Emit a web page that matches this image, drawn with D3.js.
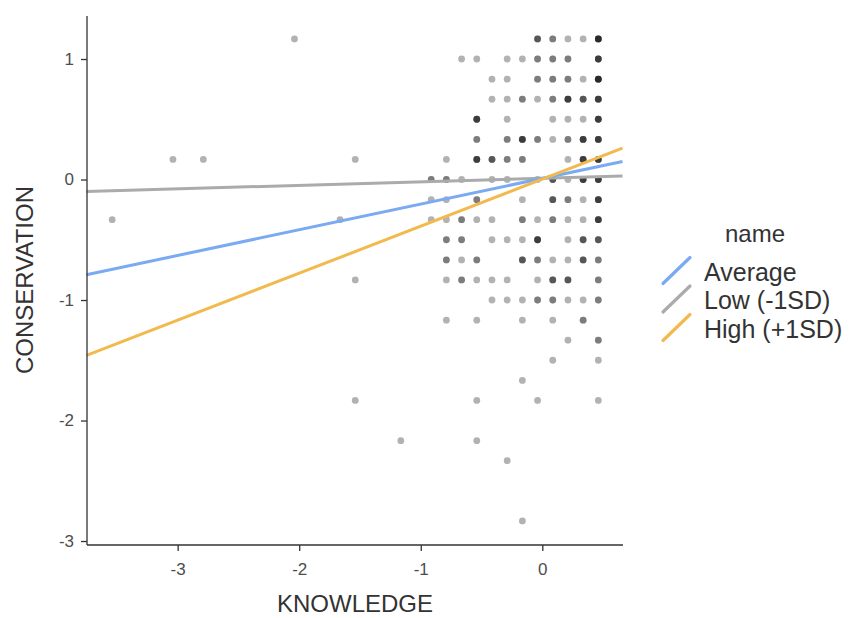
<!DOCTYPE html>
<html>
<head>
<meta charset="utf-8">
<script src="https://cdn.jsdelivr.net/npm/d3@7"></script>
<style>
  body { margin: 0; background: #fff; }
  text { font-family: "Liberation Sans", Arial, Helvetica, sans-serif; }
</style>
</head>
<body>
<svg></svg>
<script>
// points, one row of CONSERVATION at a time; count = overlapping responses
const knowledge = [
  -0.039, 0.086, 0.211, 0.336, 0.461, -2.039,
  -0.664, -0.539, -0.289, -0.164, -0.039, 0.086, 0.211, 0.461,
  -0.414, -0.289, -0.039, 0.086, 0.211, 0.336, 0.461,
  -0.414, -0.289, -0.164, -0.039, 0.086, 0.211, 0.336, 0.461,
  -0.539, -0.289, 0.086, 0.211, 0.336, 0.461,
  -0.539, -0.289, -0.164, -0.039, 0.086, 0.211, 0.336, 0.461,
  -3.039, -2.789, -1.539, -0.789, -0.539, -0.414, -0.289, -0.164, 0.211, 0.336, 0.461,
  -0.914, -0.789, -0.664, -0.414, -0.289, -0.039, 0.086, 0.211, 0.336, 0.461,
  -0.914, -0.789, -0.539, -0.164, 0.086, 0.211, 0.336, 0.461,
  -3.539, -1.664, -0.914, -0.789, -0.664, -0.539, -0.414, -0.164, -0.039, 0.086, 0.211, 0.336, 0.461,
  -0.789, -0.664, -0.414, -0.289, -0.164, -0.039, 0.211, 0.336, 0.461,
  -0.789, -0.664, -0.539, -0.164, -0.039, 0.086, 0.211, 0.336, 0.461,
  -1.539, -0.789, -0.664, -0.539, -0.414, -0.289, -0.039, 0.086, 0.211, 0.461,
  -0.414, -0.289, -0.164, -0.039, 0.086, 0.211, 0.336, 0.461,
  -0.789, -0.539, -0.164, 0.086, 0.336,
  0.211, 0.461,
  0.086, 0.461,
  -0.164,
  -1.539, -0.539, -0.039, 0.461,
  -1.164, -0.539,
  -0.289,
  -0.164
];
const conservation = [
  1.167, 1.167, 1.167, 1.167, 1.167, 1.167,
  1, 1, 1, 1, 1, 1, 1, 1,
  0.833, 0.833, 0.833, 0.833, 0.833, 0.833, 0.833,
  0.667, 0.667, 0.667, 0.667, 0.667, 0.667, 0.667, 0.667,
  0.5, 0.5, 0.5, 0.5, 0.5, 0.5,
  0.333, 0.333, 0.333, 0.333, 0.333, 0.333, 0.333, 0.333,
  0.167, 0.167, 0.167, 0.167, 0.167, 0.167, 0.167, 0.167, 0.167, 0.167, 0.167,
  0, 0, 0, 0, 0, 0, 0, 0, 0, 0,
  -0.167, -0.167, -0.167, -0.167, -0.167, -0.167, -0.167, -0.167,
  -0.333, -0.333, -0.333, -0.333, -0.333, -0.333, -0.333, -0.333, -0.333, -0.333, -0.333, -0.333, -0.333,
  -0.5, -0.5, -0.5, -0.5, -0.5, -0.5, -0.5, -0.5, -0.5,
  -0.667, -0.667, -0.667, -0.667, -0.667, -0.667, -0.667, -0.667, -0.667,
  -0.833, -0.833, -0.833, -0.833, -0.833, -0.833, -0.833, -0.833, -0.833, -0.833,
  -1, -1, -1, -1, -1, -1, -1, -1,
  -1.167, -1.167, -1.167, -1.167, -1.167,
  -1.333, -1.333,
  -1.5, -1.5,
  -1.667,
  -1.833, -1.833, -1.833, -1.833,
  -2.167, -2.167,
  -2.333,
  -2.833
];
const count = [
  3, 2, 1, 1, 5, 1,
  1, 1, 1, 1, 2, 2, 2, 4,
  1, 1, 2, 2, 2, 1, 5,
  1, 1, 2, 1, 2, 4, 3, 4,
  4, 1, 1, 1, 1, 4,
  2, 2, 4, 2, 1, 2, 4, 4,
  1, 1, 1, 1, 4, 3, 2, 2, 1, 4, 4,
  2, 2, 1, 1, 1, 1, 3, 1, 4, 4,
  1, 1, 2, 1, 3, 2, 1, 4,
  1, 1, 1, 1, 2, 1, 1, 2, 1, 2, 1, 1, 4,
  2, 2, 1, 1, 1, 4, 1, 3, 3,
  2, 1, 2, 3, 2, 1, 1, 3, 2,
  1, 1, 2, 1, 1, 1, 1, 3, 3, 2,
  1, 1, 1, 2, 2, 1, 1, 2,
  1, 1, 1, 1, 2,
  1, 2,
  1, 1,
  1,
  1, 1, 1, 1,
  1, 1,
  1,
  1
];

// simple slopes, read at the two ends of the x range
const lineX = [-3.75, 0.66];
const seriesNames = ["Average", "Low (-1SD)", "High (+1SD)"];
const seriesY = [
  [-0.79, 0.15],
  [-0.10, 0.03],
  [-1.46, 0.26]
];
const seriesColors = ["#7aaaf2", "#ababab", "#f2ba4e"];

const xTicks = [-3, -2, -1, 0];
const yTicks = [-3, -2, -1, 0, 1];

const W = 850, H = 618;
const svg = d3.select("svg").attr("width", W).attr("height", H);

const x = d3.scaleLinear().domain([-3.746, 0.664]).range([87, 623]);
const y = d3.scaleLinear().domain([-3.033, 1.357]).range([545, 16]);

// points (stacked so repeats get darker)
let pts = [];
knowledge.forEach((k, i) => {
  for (let j = 0; j < count[i]; j++) pts.push([k, conservation[i]]);
});
svg.append("g")
  .selectAll("circle")
  .data(pts)
  .enter()
  .append("circle")
  .attr("cx", d => x(d[0]))
  .attr("cy", d => y(d[1]))
  .attr("r", 3.4)
  .attr("fill", "#000")
  .attr("fill-opacity", 0.3);

// fitted lines
const line = d3.line().x(d => x(d[0])).y(d => y(d[1]));
const drawOrder = [1, 0, 2];
drawOrder.forEach(s => {
  svg.append("path")
    .datum(lineX.map((v, i) => [v, seriesY[s][i]]))
    .attr("d", line)
    .attr("fill", "none")
    .attr("stroke", seriesColors[s])
    .attr("stroke-width", 3);
});

// axes
const xAxis = svg.append("g")
  .attr("transform", "translate(0,545)")
  .call(d3.axisBottom(x).tickValues(xTicks).tickSize(6).tickPadding(12).tickFormat(d => String(d)));
const yAxis = svg.append("g")
  .attr("transform", "translate(87,0)")
  .call(d3.axisLeft(y).tickValues(yTicks).tickSize(6).tickPadding(7).tickFormat(d => String(d)));

[xAxis, yAxis].forEach(a => {
  a.select(".domain").attr("stroke", "#333").attr("stroke-width", 1.3);
  a.selectAll(".tick line").attr("stroke", "#333").attr("stroke-width", 1.3);
  a.selectAll(".tick text")
    .attr("fill", "#4d4d4d")
    .style("font-size", "17px")
    .style("font-family", "'Liberation Sans', Arial, sans-serif");
});
xAxis.select(".domain").attr("d", "M87,0H623");
yAxis.select(".domain").attr("d", "M0,16V545");

svg.append("text")
  .attr("x", 355).attr("y", 612)
  .attr("text-anchor", "middle")
  .attr("fill", "#333")
  .style("font-size", "24px")
  .text("KNOWLEDGE");

svg.append("text")
  .attr("transform", "translate(33,280) rotate(-90)")
  .attr("text-anchor", "middle")
  .attr("fill", "#333")
  .style("font-size", "24px")
  .text("CONSERVATION");

// legend
const leg = svg.append("g");
leg.append("text")
  .attr("x", 755).attr("y", 242)
  .attr("text-anchor", "middle")
  .attr("fill", "#333")
  .style("font-size", "24px")
  .text("name");

seriesNames.forEach((n, i) => {
  const cy = 270.5 + i * 28.5;
  leg.append("line")
    .attr("x1", 663).attr("y1", cy + 13)
    .attr("x2", 690).attr("y2", cy - 13)
    .attr("stroke", seriesColors[i])
    .attr("stroke-width", 3.2)
    .attr("stroke-linecap", "round");
  leg.append("text")
    .attr("x", 704).attr("y", cy + 10)
    .attr("fill", "#333")
    .style("font-size", "25px")
    .text(n);
});
</script>
</body>
</html>
